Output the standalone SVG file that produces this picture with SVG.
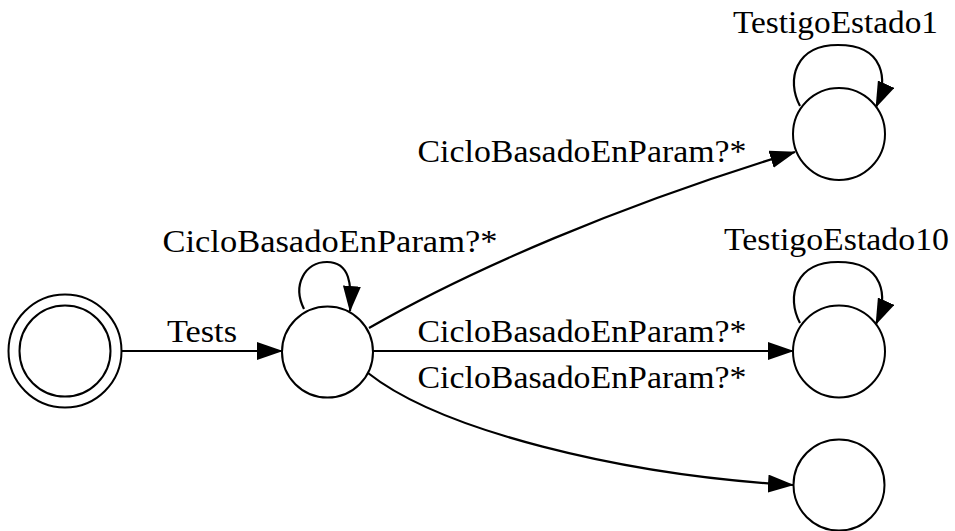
<svg xmlns="http://www.w3.org/2000/svg" width="955" height="531" viewBox="0 0 955 531">
<style>
.node circle{fill:#fff;stroke:#000;stroke-width:2}
.edge{fill:none;stroke:#000;stroke-width:2.2}
text{font-family:"Liberation Serif","Times New Roman",serif;font-size:31px;fill:#000}
</style>
<defs>
<marker id="ah" markerUnits="userSpaceOnUse" markerWidth="26" markerHeight="18" viewBox="0 0 26 18" refX="25" refY="9" orient="auto">
<path d="M0,0 L26,9 L0,18 z" fill="#000"/>
</marker>
</defs>
<rect width="955" height="531" fill="#fff"/>
<g id="edges">
<path class="edge" d="M122,351 L282,351" marker-end="url(#ah)"/>
<path class="edge" d="M304,309 C292,285 305,262 327,262 C350,262 352,285 350,311" marker-end="url(#ah)"/>
<path class="edge" d="M369,328 C470,270 620,205 795,152" marker-end="url(#ah)"/>
<path class="edge" d="M373,351 L793,351" marker-end="url(#ah)"/>
<path class="edge" d="M368,373 C440,430 620,475 793,485" marker-end="url(#ah)"/>
<path class="edge" d="M800,106 C786,80 795,45 838,45 C885,45 888,80 876,107" marker-end="url(#ah)"/>
<path class="edge" d="M800,323 C786,297 795,262 838,262 C885,262 888,297 876,324" marker-end="url(#ah)"/>
<text x="202" y="342" text-anchor="middle" textLength="70" lengthAdjust="spacingAndGlyphs">Tests</text>
<text x="330" y="252" text-anchor="middle" textLength="335" lengthAdjust="spacingAndGlyphs">CicloBasadoEnParam?*</text>
<text x="582" y="162" text-anchor="middle" textLength="329" lengthAdjust="spacingAndGlyphs">CicloBasadoEnParam?*</text>
<text x="582" y="342" text-anchor="middle" textLength="329" lengthAdjust="spacingAndGlyphs">CicloBasadoEnParam?*</text>
<text x="582" y="388" text-anchor="middle" textLength="329" lengthAdjust="spacingAndGlyphs">CicloBasadoEnParam?*</text>
<text x="835.5" y="33" text-anchor="middle" textLength="205" lengthAdjust="spacingAndGlyphs">TestigoEstado1</text>
<text x="836.5" y="250" text-anchor="middle" textLength="225" lengthAdjust="spacingAndGlyphs">TestigoEstado10</text>
</g>
<g id="start" class="node">
<circle cx="65" cy="351" r="56.5"/>
<circle cx="65" cy="351" r="45.5"/>
</g>
<g id="s1" class="node"><circle cx="327.5" cy="352" r="45.5"/></g>
<g id="s2" class="node"><circle cx="839" cy="134" r="46"/></g>
<g id="s3" class="node"><circle cx="839" cy="351.5" r="46"/></g>
<g id="s4" class="node"><circle cx="839" cy="485" r="45.5"/></g>
</svg>
